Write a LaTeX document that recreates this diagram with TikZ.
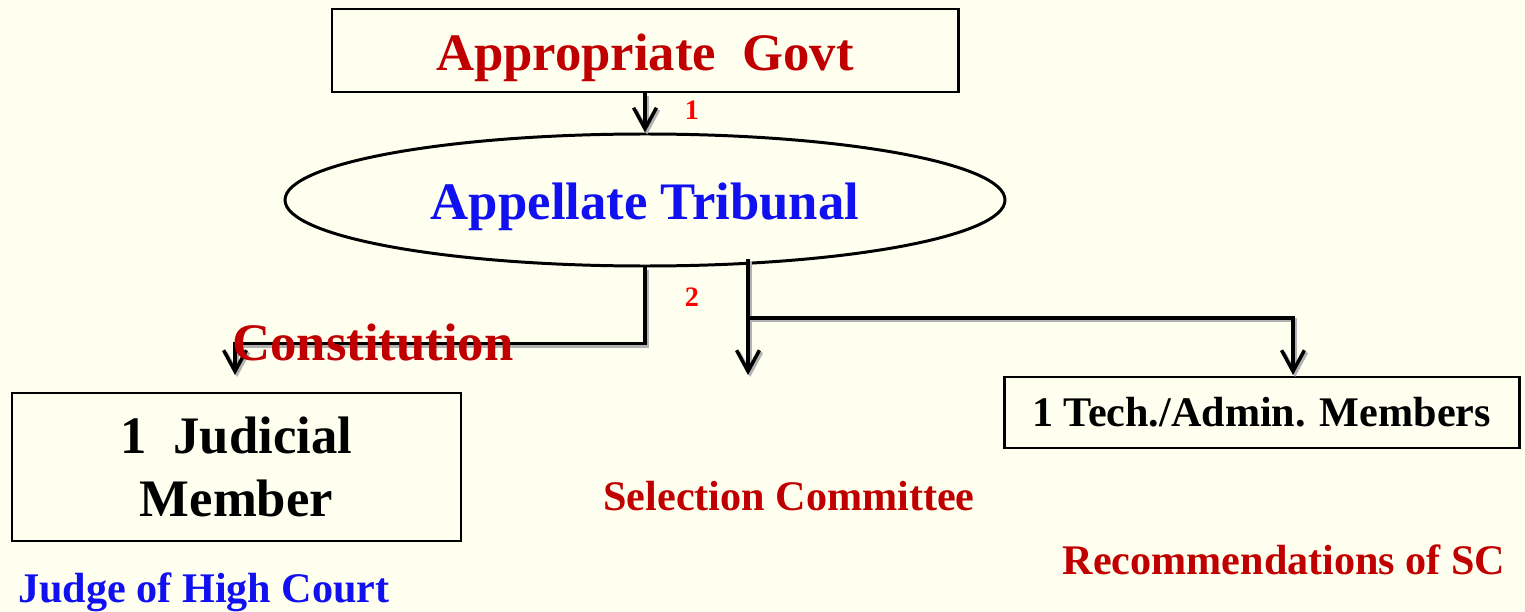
\documentclass[tikz,border=0pt]{standalone}
\usepackage{fontspec}
\setmainfont{Liberation Serif}
\usetikzlibrary{arrows.meta,shapes.geometric}
\definecolor{bgc}{RGB}{255,255,240}
\definecolor{dred}{RGB}{192,0,0}
\definecolor{tblue}{RGB}{16,16,240}
\definecolor{lred}{RGB}{255,0,0}
\newcommand\fbig{\fontsize{30}{36}\selectfont\bfseries}
\newcommand\fmid{\fontsize{24}{29}\selectfont\bfseries}
\newcommand\fsmall{\fontsize{16}{19}\selectfont\bfseries}
\tikzset{
  boxnode/.style={draw=black, line width=1.7pt, rectangle, inner sep=0pt},
  conn/.style={line width=2.2pt, black, line cap=butt,
    -{Straight Barb[length=12pt,width=13pt,line width=2pt]},
    preaction={draw=black!30, line width=2.2pt, transform canvas={shift={(1.2pt,-1.2pt)}}}},
  lbl/.style={inner sep=0pt},
}
\begin{document}
\begin{tikzpicture}
\fill[bgc] (0,0) rectangle (30.5,-12.24);
\useasboundingbox (0,0) rectangle (30.5,-12.24);

\node[boxnode, minimum width=12.52cm, minimum height=1.66cm, text=dred, font=\fbig, text height=29pt, text depth=6.5pt] (gov) at (12.9,-1.01) {Appropriate\ \ Govt};
\node[draw=black, line width=1.7pt, ellipse, inner sep=0pt, minimum width=14.4cm, minimum height=2.64cm, text=tblue, font=\fbig, text height=29pt, text depth=6.5pt] (trib) at (12.9,-4.0) {Appellate Tribunal};
\node[boxnode, minimum width=8.98cm, minimum height=2.96cm, align=center, font=\fbig] (jud) at (4.73,-9.34) {1\ \ Judicial\\Member};
\node[boxnode, minimum width=10.3cm, minimum height=1.42cm, font=\fmid, text height=21pt, text depth=5pt] (tech) at (25.23,-8.25) {1 Tech./Admin. Members};

\node[lbl, text=lred, font=\fsmall] (n1) at (13.84,-2.2) {1};
\node[lbl, text=lred, font=\fsmall] (n2) at (13.84,-5.94) {2};

\coordinate (s2) at (14.96,-5.18);
\coordinate (br) at (14.96,-6.36);
\coordinate (jend) at (4.7,-7.5);
\coordinate (send) at (14.96,-7.5);
\coordinate (tend) at (25.86,-7.5);

\draw[conn] (gov.south) -- (trib.north);
\draw[conn] (trib.south) -- ++(0,-1.52) -| (jend);
\draw[conn] (s2) -- (send);
\draw[conn] (br) -| (tend);

\node[lbl, text=dred, font=\fbig] (con) at (7.46,-6.86) {Constitution};
\node[lbl, text=dred, font=\fmid] (sel) at (15.78,-9.92) {Selection Committee};
\node[lbl, text=dred, font=\fmid] (rec) at (25.68,-11.2) {Recommendations of SC};
\node[lbl, text=tblue, font=\fmid] (judge) at (4.08,-11.84) {Judge of High Court};
\end{tikzpicture}
\end{document}
